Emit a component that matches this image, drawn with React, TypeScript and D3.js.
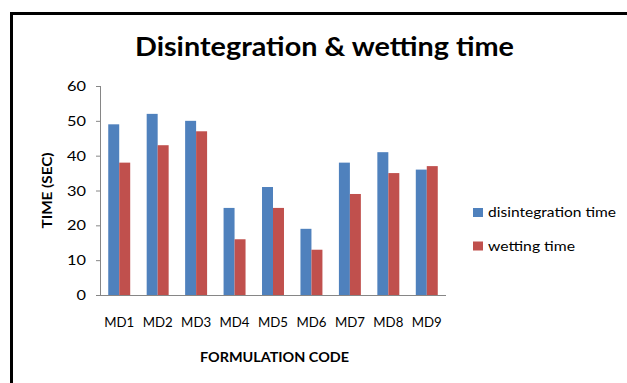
import React from "react";
import * as d3 from "d3";

// Formulation codes and the two measured times (seconds)
const categories = ["MD1", "MD2", "MD3", "MD4", "MD5", "MD6", "MD7", "MD8", "MD9"];
const disintegrationTime = [49, 52, 50, 25, 31, 19, 38, 41, 36];
const wettingTime = [38, 43, 47, 16, 25, 13, 29, 35, 37];
const seriesNames = ["disintegration time", "wetting time"];
const yTicks = [0, 10, 20, 30, 40, 50, 60];

const W = 627;
const H = 383;
const plot = { left: 100, right: 446, top: 86, bottom: 295 };
const colors = ["#4F81BD", "#C0504D"];
const FONT = "Lato, 'Open Sans', 'Liberation Sans', sans-serif";

export default function App() {
  const series = [disintegrationTime, wettingTime];

  // gap width 150% between category groups
  const x0 = d3
    .scaleBand<string>()
    .domain(categories)
    .range([plot.left, plot.right])
    .paddingInner(1.5 / 3.5)
    .paddingOuter(0.75 / 3.5);
  const x1 = d3
    .scaleBand<string>()
    .domain(seriesNames)
    .range([0, x0.bandwidth()]);
  const y = d3.scaleLinear().domain([0, 60]).range([plot.bottom, plot.top]);

  return (
    <svg
      width={W}
      height={H}
      style={{ position: "absolute", left: 0, top: 0, background: "#fff" }}
      fontFamily={FONT}
    >
      <rect x={0} y={0} width={W} height={H} fill="#fff" />
      {/* outer frame */}
      <rect x={11.5} y={13.5} width={W + 20} height={H + 20} fill="none" stroke="#000" strokeWidth={3} />

      {/* title */}
      <text
        x={135}
        y={56}
        fontSize={26}
        fontWeight={700}
        fill="#000"
        textLength={379}
        lengthAdjust="spacingAndGlyphs"
      >
        Disintegration &amp; wetting time
      </text>

      {/* bars */}
      {categories.map((c, i) =>
        series.map((vals, s) => {
          const bx = (x0(c) as number) + (x1(seriesNames[s]) as number);
          const by = y(vals[i]);
          return (
            <rect
              key={c + s}
              x={bx}
              y={by}
              width={x1.bandwidth()}
              height={plot.bottom - by}
              fill={colors[s]}
            />
          );
        })
      )}

      {/* y axis */}
      <line x1={plot.left + 0.5} x2={plot.left + 0.5} y1={plot.top} y2={plot.bottom} stroke="#868686" />
      {yTicks.map((t) => (
        <g key={t}>
          <line x1={plot.left - 4} x2={plot.left} y1={y(t) + 0.5} y2={y(t) + 0.5} stroke="#868686" />
          <text
            x={86}
            y={y(t) + 5}
            fontSize={13.5}
            fill="#000"
            textAnchor="end"
            textLength={String(t).length * 9.5}
            lengthAdjust="spacingAndGlyphs"
          >
            {t}
          </text>
        </g>
      ))}

      {/* x axis */}
      <line x1={plot.left} x2={plot.right} y1={plot.bottom + 0.5} y2={plot.bottom + 0.5} stroke="#868686" />
      {categories.map((c) => (
        <text
          key={c}
          x={(x0(c) as number) + x0.bandwidth() / 2 - 15}
          y={327}
          fontSize={13.5}
          fill="#000"
          textLength={30}
          lengthAdjust="spacingAndGlyphs"
        >
          {c}
        </text>
      ))}

      {/* axis titles */}
      <text
        x={200}
        y={362}
        fontSize={14}
        fontWeight={700}
        fill="#000"
        textLength={149}
        lengthAdjust="spacingAndGlyphs"
      >
        FORMULATION CODE
      </text>
      <text
        transform={`translate(52, ${(plot.top + plot.bottom) / 2 + 38}) rotate(-90)`}
        fontSize={14}
        fontWeight={700}
        fill="#000"
        textLength={76}
        lengthAdjust="spacingAndGlyphs"
      >
        TIME (SEC)
      </text>

      {/* legend */}
      {seriesNames.map((name, s) => {
        const ly = 217 + s * 33.5;
        return (
          <g key={name}>
            <rect x={473} y={ly - 9} width={10} height={9} fill={colors[s]} />
            <text
              x={488}
              y={ly}
              fontSize={13.5}
              fill="#000"
              textLength={s === 0 ? 128 : 87}
              lengthAdjust="spacingAndGlyphs"
            >
              {name}
            </text>
          </g>
        );
      })}
    </svg>
  );
}
